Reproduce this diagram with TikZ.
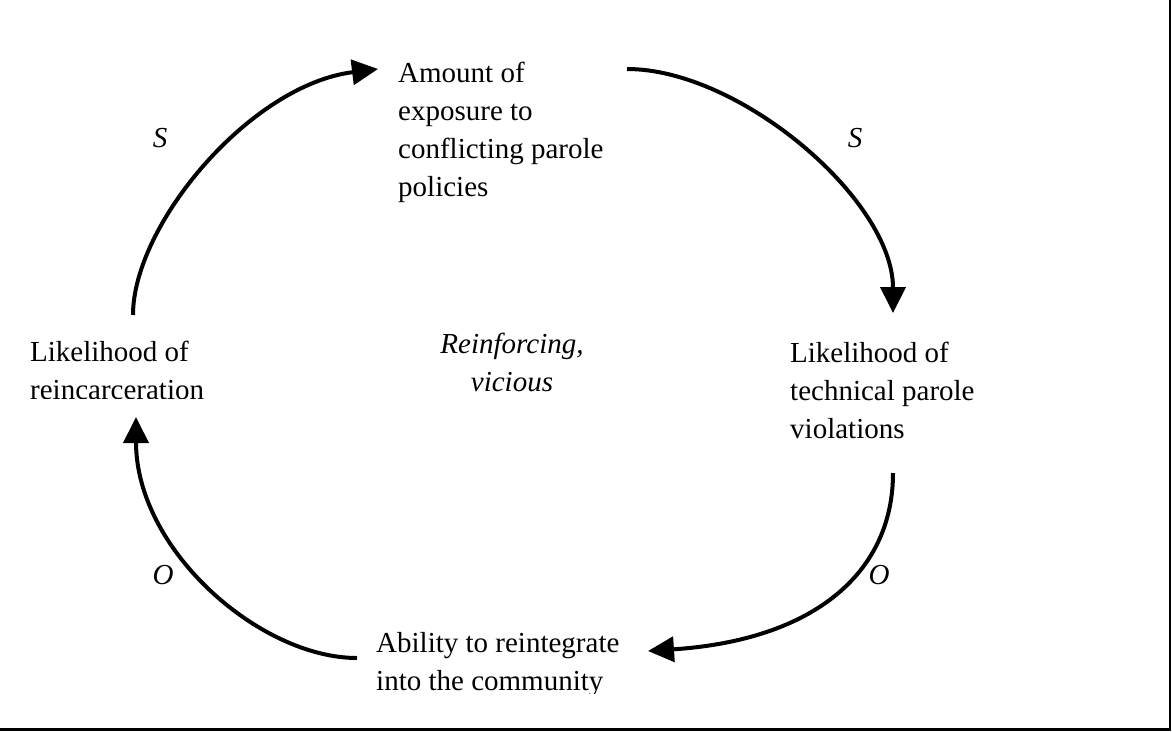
\documentclass[tikz,border=0pt]{standalone}
\usepackage{fontspec}
\setmainfont{Liberation Serif}
\usetikzlibrary{arrows.meta}
\begin{document}
\begin{tikzpicture}[x=1pt,y=-1pt,
  lbl/.style={inner sep=0pt, anchor=base west, font=\fontsize{29}{38}\selectfont},
  pol/.style={inner sep=0pt, font=\fontsize{29}{38}\selectfont\itshape},
  link/.style={line width=4pt, -{Triangle[length=26pt,width=25pt]}},
  frame/.style={line width=2.5pt}]
\useasboundingbox (0,0) rectangle (1172,731);
\draw[frame] (1170,-5) -- (1170,729.5) -- (-5,729.5);

\node[lbl] (top) at (398,82) {\begin{tabular}[t]{@{}l@{}}Amount of\\exposure to\\conflicting parole\\policies\end{tabular}};
\node[lbl] (right) at (790,362) {\begin{tabular}[t]{@{}l@{}}Likelihood of\\technical parole\\violations\end{tabular}};
\begin{scope}
\clip (0,0) rectangle (1172,398);
\node[lbl] (left) at (30,361) {\begin{tabular}[t]{@{}l@{}}Likelihood of\\reincarceration\end{tabular}};
\end{scope}
\begin{scope}
\clip (0,0) rectangle (1172,693);
\node[lbl] (bottom) at (376,652) {\begin{tabular}[t]{@{}l@{}}Ability to reintegrate\\into the community\end{tabular}};
\end{scope}
\node[pol, anchor=base] (loop) at (512,353) {\begin{tabular}[t]{@{}c@{}}Reinforcing,\\vicious\end{tabular}};

\node[pol] (s1) at (160,138) {S};
\node[pol] (s2) at (855,138) {S};
\node[pol] (o1) at (879,575) {O};
\node[pol] (o2) at (163,575) {O};

\coordinate (a1s) at (133,315);
\coordinate (a1e) at (378,69);
\coordinate (a2s) at (627,69);
\coordinate (a2e) at (893,313);
\coordinate (a3s) at (893,473);
\coordinate (a3e) at (648,651);
\coordinate (a4s) at (357,658);
\coordinate (a4e) at (136,417);

\draw[link] (a1s) .. controls (133,225) and (250,85) .. (a1e);
\draw[link] (a2s) .. controls (740,69) and (893,200) .. (a2e);
\draw[link] (a3s) .. controls (893,572) and (815,640) .. (a3e);
\draw[link] (a4s) .. controls (260,658) and (136,550) .. (a4e);
\end{tikzpicture}
\end{document}
